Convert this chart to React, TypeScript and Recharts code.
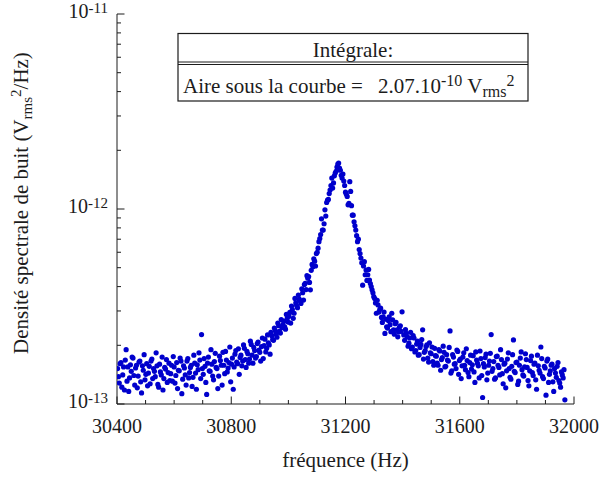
import React from 'react';
import { ScatterChart, Scatter, XAxis, YAxis } from 'recharts';

// ---------- data (frequency in Hz, PSD in units of 1e-13 Vrms^2/Hz) ----------
// sweep A
const freqLeft = [
  30402, 30408, 30414, 30420, 30426, 30432, 30438, 30444, 30450, 30456,
  30462, 30468, 30474, 30480, 30486, 30492, 30498, 30504, 30510, 30516,
  30522, 30528, 30534, 30540, 30546, 30552, 30558, 30564, 30570, 30576,
  30582, 30588, 30594, 30600, 30606, 30612, 30618, 30624, 30630, 30636,
  30642, 30648, 30654, 30660, 30666, 30672, 30678, 30684, 30690, 30696,
  30702, 30708, 30714, 30720, 30726, 30732, 30738, 30744, 30750, 30756,
  30762, 30768, 30774, 30780, 30786, 30792, 30798, 30804, 30810, 30816,
  30822, 30828, 30834, 30840, 30846, 30852, 30858, 30864, 30870, 30876,
  30882, 30888, 30894, 30900, 30906, 30912, 30918, 30924, 30930, 30936,
  30942, 30948, 30954, 30960, 30966, 30972, 30978, 30984, 30990, 30996,
];
const psdLeft = [
  1.52, 1.28, 1.63, 1.41, 1.18, 1.90, 1.55, 1.36, 1.47, 1.72,
  1.25, 1.58, 1.39, 1.66, 1.14, 1.49, 1.33, 1.61, 1.44, 1.27,
  1.70, 1.52, 1.38, 1.57, 1.22, 1.46, 1.74, 1.35, 1.51, 1.29,
  1.62, 1.43, 1.31, 1.55, 1.40, 1.20, 1.48, 1.66, 1.34, 1.53,
  1.25, 1.71, 1.45, 1.58, 1.37, 1.62, 1.19, 1.50, 1.68, 2.27,
  1.42, 1.56, 1.12, 1.74, 1.47, 1.60, 1.33, 1.82, 1.52, 1.39,
  1.67, 1.25, 1.58, 1.86, 1.46, 1.63, 1.30, 1.72, 1.55, 1.88,
  1.61, 1.42, 1.78, 1.66, 1.93, 1.54, 1.81, 1.70, 2.02, 1.62,
  1.88, 1.75, 2.08, 1.84, 1.97, 1.71, 2.15, 1.93, 2.06, 1.80,
  2.24, 2.12, 2.38, 2.20, 2.52, 2.31, 2.46, 2.66, 2.42, 2.75,
];
const freqPeak = [
  31002, 31008, 31014, 31020, 31026, 31032, 31038, 31044, 31050, 31056,
  31062, 31068, 31074, 31080, 31086, 31092, 31098, 31104, 31110, 31116,
  31122, 31128, 31134, 31140, 31146, 31152, 31158, 31164, 31170, 31176,
  31182, 31188, 31194, 31200, 31206, 31212, 31218, 31224, 31230, 31236,
  31242, 31248, 31254, 31260, 31266, 31272, 31278, 31284, 31290, 31296,
  31302, 31308, 31314, 31320, 31326, 31332, 31338, 31344, 31350, 31356,
  31362, 31368, 31374, 31380, 31386, 31392, 31398,
];
const psdPeak = [
  2.82, 2.60, 3.05, 2.92, 3.30, 3.12, 3.45, 3.28, 3.72, 4.10,
  3.86, 4.42, 4.20, 4.85, 5.05, 5.40, 5.90, 6.30, 7.05, 8.90,
  7.80, 9.90, 10.8, 11.2, 12.5, 14.4, 13.6, 15.3, 16.4, 17.2,
  15.8, 14.4, 13.9, 12.2, 11.6, 10.7, 12.3, 9.30, 8.60, 7.80,
  6.80, 6.20, 5.60, 4.07, 5.37, 4.86, 4.60, 4.32, 4.00, 3.72,
  3.48, 2.92, 3.22, 3.05, 2.78, 2.80, 2.30, 2.49, 2.68, 2.55,
  2.92, 2.40, 2.58, 2.40, 2.34, 2.52, 2.97,
];
const freqRight = [
  31404, 31410, 31416, 31422, 31428, 31434, 31440, 31446, 31452, 31458,
  31464, 31470, 31476, 31482, 31488, 31494, 31500, 31506, 31512, 31518,
  31524, 31530, 31536, 31542, 31548, 31554, 31560, 31566, 31572, 31578,
  31584, 31590, 31596, 31602, 31608, 31614, 31620, 31626, 31632, 31638,
  31644, 31650, 31656, 31662, 31668, 31674, 31680, 31686, 31692, 31698,
  31704, 31710, 31716, 31722, 31728, 31734, 31740, 31746, 31752, 31758,
  31764, 31770, 31776, 31782, 31788, 31794, 31800, 31806, 31812, 31818,
  31824, 31830, 31836, 31842, 31848, 31854, 31860, 31866, 31872, 31878,
  31884, 31890, 31896, 31902, 31908, 31914, 31920, 31926, 31932, 31938,
  31944, 31950, 31956, 31962, 31968,
];
const psdRight = [
  2.26, 2.41, 2.21, 2.05, 2.33, 1.96, 2.18, 1.88, 2.10, 1.79,
  2.02, 2.40, 1.84, 1.97, 1.72, 2.06, 1.81, 1.65, 1.93, 1.76,
  1.58, 1.87, 1.69, 1.98, 1.55, 1.79, 1.66, 2.37, 1.48, 1.74,
  1.61, 1.89, 1.42, 1.70, 1.57, 1.83, 1.50, 1.67, 1.38, 1.78,
  1.59, 1.46, 1.85, 1.62, 1.36, 1.71, 1.08, 1.55, 1.80, 1.44,
  1.66, 2.27, 1.52, 1.34, 1.75, 1.58, 1.41, 1.69, 1.27, 1.62,
  1.48, 1.83, 1.37, 1.56, 2.13, 1.45, 1.64, 1.31, 1.72, 1.50,
  1.39, 1.81, 1.54, 1.24, 1.67, 1.45, 1.60, 1.33, 1.78, 1.49,
  1.96, 1.38, 1.56, 1.11, 1.70, 1.42, 1.58, 1.30, 1.52, 1.37,
  1.63, 1.28, 1.46, 1.36, 1.05,
];

// sweep B (interleaved points)
const freqLeftB = [
  30405, 30411, 30417, 30423, 30429, 30435, 30441, 30447, 30453, 30459,
  30465, 30471, 30477, 30483, 30489, 30495, 30501, 30507, 30513, 30519,
  30525, 30531, 30537, 30543, 30549, 30555, 30561, 30567, 30573, 30579,
  30585, 30591, 30597, 30603, 30609, 30615, 30621, 30627, 30633, 30639,
  30645, 30651, 30657, 30663, 30669, 30675, 30681, 30687, 30693, 30699,
  30705, 30711, 30717, 30723, 30729, 30735, 30741, 30747, 30753, 30759,
  30765, 30771, 30777, 30783, 30789, 30795, 30801, 30807, 30813, 30819,
  30825, 30831, 30837, 30843, 30849, 30855, 30861, 30867, 30873, 30879,
  30885, 30891, 30897, 30903, 30909, 30915, 30921, 30927, 30933, 30939,
  30945, 30951, 30957, 30963, 30969, 30975, 30981, 30987, 30993, 30999,
];
const psdLeftB = [
  1.38, 1.61, 1.22, 1.55, 1.68, 1.31, 1.16, 1.59, 1.74, 1.40,
  1.53, 1.21, 1.64, 1.30, 1.57, 1.79, 1.42, 1.24, 1.56, 1.66,
  1.35, 1.47, 1.83, 1.26, 1.60, 1.41, 1.18, 1.54, 1.69, 1.45,
  1.32, 1.58, 1.75, 1.28, 1.63, 1.49, 1.72, 1.13, 1.57, 1.41,
  1.66, 1.36, 1.54, 1.23, 1.78, 1.44, 1.59, 1.83, 1.35, 1.52,
  1.71, 1.29, 1.62, 1.48, 1.90, 1.39, 1.65, 1.54, 1.20, 1.76,
  1.58, 1.84, 1.43, 1.68, 1.53, 1.96, 1.60, 1.19, 1.80, 1.64,
  1.92, 1.73, 1.57, 2.01, 1.69, 1.86, 1.62, 2.10, 1.78, 1.95,
  1.72, 2.04, 1.89, 1.66, 2.18, 1.99, 1.85, 2.26, 2.01, 2.33,
  2.14, 2.45, 2.28, 2.60, 2.36, 2.71, 2.55, 2.49, 2.88, 2.63,
];
const freqPeakB = [
  31005, 31011, 31017, 31023, 31029, 31035, 31041, 31047, 31053, 31059,
  31065, 31071, 31077, 31083, 31089, 31095, 31101, 31107, 31113, 31119,
  31125, 31131, 31137, 31143, 31149, 31155, 31161, 31167, 31173, 31179,
  31185, 31191, 31197, 31203, 31209, 31215, 31221, 31227, 31233, 31239,
  31245, 31251, 31257, 31263, 31269, 31275, 31281, 31287, 31293, 31299,
  31305, 31311, 31317, 31323, 31329, 31335, 31341, 31347, 31353, 31359,
  31365, 31371, 31377, 31383, 31389, 31395,
];
const psdPeakB = [
  2.95, 3.18, 2.75, 3.48, 3.20, 3.62, 3.38, 3.90, 3.41, 4.16,
  4.55, 4.50, 3.85, 5.20, 5.55, 5.10, 6.00, 6.80, 7.40, 7.80,
  8.40, 9.20, 11.1, 12.0, 13.2, 12.8, 14.8, 15.6, 17.0, 16.2,
  14.9, 15.1, 13.2, 11.9, 10.5, 13.8, 10.4, 9.30, 8.20, 7.30,
  7.00, 5.90, 5.30, 5.10, 4.60, 4.30, 4.90, 4.15, 3.85, 3.55,
  3.30, 3.40, 2.96, 3.10, 2.62, 2.96, 2.72, 2.45, 2.80, 2.35,
  2.70, 2.28, 2.62, 2.21, 2.48, 2.36,
];
const freqRightB = [
  31407, 31413, 31419, 31425, 31431, 31437, 31443, 31449, 31455, 31461,
  31467, 31473, 31479, 31485, 31491, 31497, 31503, 31509, 31515, 31521,
  31527, 31533, 31539, 31545, 31551, 31557, 31563, 31569, 31575, 31581,
  31587, 31593, 31599, 31605, 31611, 31617, 31623, 31629, 31635, 31641,
  31647, 31653, 31659, 31665, 31671, 31677, 31683, 31689, 31695, 31701,
  31707, 31713, 31719, 31725, 31731, 31737, 31743, 31749, 31755, 31761,
  31767, 31773, 31779, 31785, 31791, 31797, 31803, 31809, 31815, 31821,
  31827, 31833, 31839, 31845, 31851, 31857, 31863, 31869, 31875, 31881,
  31887, 31893, 31899, 31905, 31911, 31917, 31923, 31929, 31935, 31941,
  31947, 31953, 31959, 31965,
];
const psdRightB = [
  2.12, 2.30, 1.98, 2.18, 1.92, 2.24, 1.85, 2.03, 1.78, 1.95,
  2.14, 1.70, 1.88, 2.01, 1.64, 1.83, 1.96, 1.58, 1.77, 1.62,
  1.90, 1.49, 1.73, 1.84, 1.56, 1.68, 1.95, 1.44, 1.79, 1.60,
  1.52, 1.86, 1.67, 1.35, 1.74, 1.58, 1.92, 1.45, 1.63, 1.51,
  1.77, 1.29, 1.68, 1.57, 1.87, 1.40, 1.61, 1.73, 1.33, 1.58,
  1.82, 1.47, 1.65, 1.36, 1.76, 1.54, 1.90, 1.43, 1.60, 1.21,
  1.70, 1.52, 1.34, 1.79, 1.47, 1.63, 1.26, 1.58, 1.85, 1.41,
  1.55, 1.69, 1.32, 1.48, 1.76, 1.40, 1.62, 1.19, 1.57, 1.44,
  1.71, 1.35, 1.53, 1.66, 1.29, 1.48, 1.60, 1.16, 1.44, 1.56,
  1.32, 1.22, 1.41, 1.50,
];

const xTicks = [
  30400, 30500, 30600, 30700, 30800, 30900, 31000, 31100, 31200,
  31300, 31400, 31500, 31600, 31700, 31800, 31900, 32000,
];
const xMajorTicks = [30400, 30800, 31200, 31600, 32000];
const yTicks = [
  1e-13, 2e-13, 3e-13, 4e-13, 5e-13, 6e-13, 7e-13, 8e-13, 9e-13,
  1e-12, 2e-12, 3e-12, 4e-12, 5e-12, 6e-12, 7e-12, 8e-12, 9e-12, 1e-11,
];
const yMajorTicks = [1e-13, 1e-12, 1e-11];
const yMajorExponents = ['-13', '-12', '-11'];

const UNIT = 1e-13;
const allFreq = [
  ...freqLeft, ...freqPeak, ...freqRight,
  ...freqLeftB, ...freqPeakB, ...freqRightB,
];
const allPsd = [
  ...psdLeft, ...psdPeak, ...psdRight,
  ...psdLeftB, ...psdPeakB, ...psdRightB,
];
const data = allFreq.map((f, i) => ({ f, p: allPsd[i] * UNIT }));

// ---------- styling ----------
const FONT = '"Liberation Serif", "Times New Roman", Times, serif';
const INK = '#1c1c1c';
const DOT = '#0000CC';
const W = 599;
const H = 477;

function BottomTick(props: any) {
  const { x, y, payload } = props;
  const major = xMajorTicks.includes(payload.value);
  return (
    <g>
      <line x1={x} y1={y} x2={x} y2={y - (major ? 7.5 : 4)} stroke={INK} strokeWidth={1} />
      {major && (
        <text x={x} y={y + 29} textAnchor="middle" fontFamily={FONT} fontSize={20} fill={INK}>
          {payload.value}
        </text>
      )}
    </g>
  );
}

function TopTick(props: any) {
  const { x, y, payload } = props;
  const major = xMajorTicks.includes(payload.value);
  return <line x1={x} y1={y} x2={x} y2={y + (major ? 7.5 : 4)} stroke={INK} strokeWidth={1} />;
}

function LeftTick(props: any) {
  const { x, y, payload } = props;
  const idx = yMajorTicks.indexOf(payload.value);
  const major = idx >= 0;
  return (
    <g>
      <line x1={x} y1={y} x2={x + (major ? 7.5 : 4)} y2={y} stroke={INK} strokeWidth={1} />
      {major && (
        <text x={x - 9} y={y + 4} textAnchor="end" fontFamily={FONT} fontSize={20} fill={INK}>
          <tspan>10</tspan>
          <tspan fontSize={15} dy={-5}>{yMajorExponents[idx]}</tspan>
        </text>
      )}
    </g>
  );
}

function RightTick(props: any) {
  const { x, y, payload } = props;
  const major = yMajorTicks.includes(payload.value);
  return <line x1={x} y1={y} x2={x - (major ? 7.5 : 4)} y2={y} stroke={INK} strokeWidth={1} />;
}

function XTitle(props: any) {
  const vb = props.viewBox || { x: 117, y: 404, width: 457, height: 73 };
  return (
    <text x={vb.x + vb.width / 2} y={vb.y + 63} textAnchor="middle" fontFamily={FONT} fontSize={21} fill={INK}>
      fréquence (Hz)
    </text>
  );
}

function YTitle(props: any) {
  const vb = props.viewBox || { x: 0, y: 14, width: 117, height: 390 };
  const cx = vb.x + 28;
  const cy = vb.y + vb.height / 2 - 6;
  return (
    <text
      x={cx}
      y={cy}
      transform={`rotate(-90 ${cx} ${cy})`}
      textAnchor="middle"
      fontFamily={FONT}
      fontSize={21}
      fill={INK}
    >
      <tspan>Densité spectrale de buit (V</tspan>
      <tspan fontSize={15} dy={4}>rms</tspan>
      <tspan fontSize={15} dy={-11}>2</tspan>
      <tspan dy={7}>/Hz)</tspan>
    </text>
  );
}

function DotShape(props: any) {
  const { cx, cy } = props;
  if (cx == null || cy == null) return null;
  return <circle cx={cx} cy={cy} r={2.6} fill={DOT} />;
}

function ResultBox() {
  return (
    <svg width={W} height={H} style={{ position: 'absolute', left: 0, top: 0, pointerEvents: 'none' }}>
      <rect x={178} y={33.5} width={350} height={67.5} fill="#fff" stroke={INK} strokeWidth={1.2} />
      <line x1={178} x2={528} y1={62} y2={62} stroke={INK} strokeWidth={1} />
      <line x1={178} x2={528} y1={64.5} y2={64.5} stroke={INK} strokeWidth={1} />
      <text x={353} y={57} textAnchor="middle" fontFamily={FONT} fontSize={21} fill={INK}>
        Intégrale:
      </text>
      <text x={183} y={93} fontFamily={FONT} fontSize={21} fill={INK}>
        Aire sous la courbe =
      </text>
      <text x={378} y={93} fontFamily={FONT} fontSize={21} fill={INK}>
        <tspan>2.07.10</tspan>
        <tspan fontSize={16} dy={-7}>-10</tspan>
        <tspan dy={7}> V</tspan>
        <tspan fontSize={16} dy={4}>rms</tspan>
        <tspan fontSize={16} dy={-11}>2</tspan>
      </text>
    </svg>
  );
}

export default function App() {
  return (
    <div style={{ position: 'absolute', left: 0, top: 0, width: W, height: H, background: '#fff' }}>
      <ScatterChart width={W} height={H} margin={{ top: 14, right: 25, bottom: 0, left: 0 }}>
        <XAxis
          xAxisId="b"
          dataKey="f"
          type="number"
          domain={[30400, 32000]}
          ticks={xTicks}
          interval={0}
          allowDataOverflow
          height={73}
          tickSize={0}
          tickMargin={0}
          tickLine={false}
          axisLine={{ stroke: INK, strokeWidth: 1 }}
          tick={<BottomTick />}
          label={<XTitle />}
        />
        <XAxis
          xAxisId="t"
          orientation="top"
          type="number"
          domain={[30400, 32000]}
          ticks={xTicks}
          interval={0}
          allowDataOverflow
          height={0}
          tickSize={0}
          tickMargin={0}
          tickLine={false}
          axisLine={{ stroke: INK, strokeWidth: 1 }}
          tick={<TopTick />}
        />
        <YAxis
          yAxisId="l"
          dataKey="p"
          type="number"
          scale="log"
          domain={[1e-13, 1e-11]}
          ticks={yTicks}
          interval={0}
          allowDataOverflow
          width={117}
          tickSize={0}
          tickMargin={0}
          tickLine={false}
          axisLine={{ stroke: INK, strokeWidth: 1 }}
          tick={<LeftTick />}
          label={<YTitle />}
        />
        <YAxis
          yAxisId="r"
          orientation="right"
          type="number"
          scale="log"
          domain={[1e-13, 1e-11]}
          ticks={yTicks}
          interval={0}
          allowDataOverflow
          width={0}
          tickSize={0}
          tickMargin={0}
          tickLine={false}
          axisLine={{ stroke: INK, strokeWidth: 1 }}
          tick={<RightTick />}
        />
        <Scatter
          data={data}
          xAxisId="b"
          yAxisId="l"
          fill={DOT}
          shape={<DotShape />}
          isAnimationActive={false}
        />
      </ScatterChart>
      <ResultBox />
    </div>
  );
}
